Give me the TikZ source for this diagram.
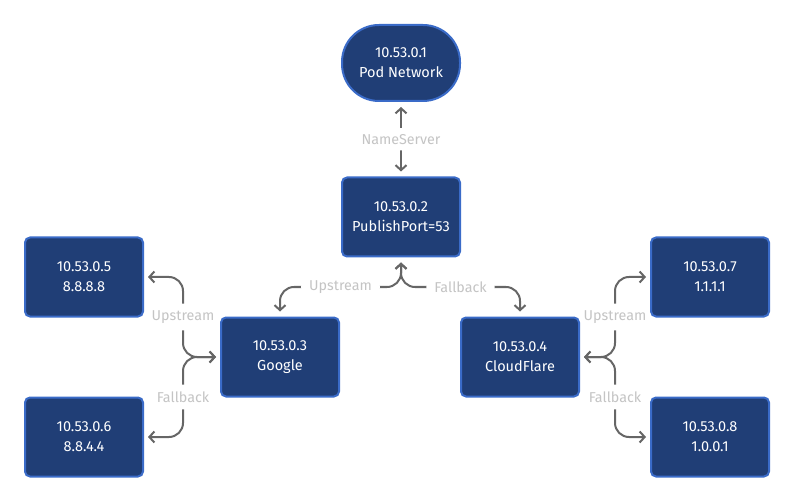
\documentclass[tikz,border=0pt]{standalone}
\usepackage{fontspec}
\setmainfont{Fira Sans}
\usetikzlibrary{arrows.meta}
\definecolor{boxfill}{HTML}{203E76}
\definecolor{boxedge}{HTML}{3A6BC8}
\definecolor{linegray}{HTML}{666666}
\definecolor{labgray}{HTML}{C4C4C4}
\begin{document}
\begin{tikzpicture}[x=1pt,y=-1pt,
  hostbox/.style={draw=boxedge, line width=2pt, fill=boxfill, text=white,
    rounded corners=5pt, minimum width=118pt, minimum height=79pt,
    align=center, font=\fontsize{14.5}{20}\selectfont, inner sep=0pt},
  podshape/.style={hostbox, rounded corners=37pt, minimum width=118pt, minimum height=76pt},
  conn/.style={draw=linegray, line width=2pt, rounded corners=14pt,
    {Straight Barb[length=5pt,width=11pt,line width=2pt]}-{Straight Barb[length=5pt,width=11pt,line width=2pt]}},
  lab/.style={fill=white, text=labgray, font=\fontsize{14.3}{15}\selectfont, inner xsep=8pt, inner ysep=6pt},
  vlab/.style={lab, inner xsep=1pt, inner ysep=7pt}
]
\useasboundingbox (0,0) rectangle (794,502);
\node[podshape] (pod) at (401,63) {10.53.0.1\\Pod Network};
\node[hostbox] (pub) at (401,217) {10.53.0.2\\PublishPort=53};
\node[hostbox] (goo) at (280,357) {10.53.0.3\\Google};
\node[hostbox] (cf) at (520,357) {10.53.0.4\\CloudFlare};
\node[hostbox] (g1) at (84,277) {10.53.0.5\\8.8.8.8};
\node[hostbox] (g2) at (84,437) {10.53.0.6\\8.8.4.4};
\node[hostbox] (c1) at (710,277) {10.53.0.7\\1.1.1.1};
\node[hostbox] (c2) at (710,437) {10.53.0.8\\1.0.0.1};

\coordinate (split) at (401,287);
\coordinate (gsplit) at (183,357);
\coordinate (csplit) at (615,357);

\draw[conn, shorten <=5pt, shorten >=5pt] (pod) -- node[vlab, inner ysep=6pt] {NameServer} (pub);

\draw[conn, shorten <=5pt, shorten >=5pt] (pub.south) -- (split) -- node[lab] {Upstream} (split -| goo.north) -- (goo.north);
\draw[conn, shorten <=5pt, shorten >=5pt] (pub.south) -- (split) -- node[lab] {Fallback} (split -| cf.north) -- (cf.north);

\draw[conn, shorten <=4pt, shorten >=4pt] (goo.west) -- (gsplit) -- node[vlab] {Upstream} (gsplit |- g1.east) -- (g1.east);
\draw[conn, shorten <=4pt, shorten >=4pt] (goo.west) -- (gsplit) -- node[vlab] {Fallback} (gsplit |- g2.east) -- (g2.east);

\draw[conn, shorten <=4pt, shorten >=4pt] (cf.east) -- (csplit) -- node[vlab] {Upstream} (csplit |- c1.west) -- (c1.west);
\draw[conn, shorten <=4pt, shorten >=4pt] (cf.east) -- (csplit) -- node[vlab] {Fallback} (csplit |- c2.west) -- (c2.west);
\end{tikzpicture}
\end{document}
